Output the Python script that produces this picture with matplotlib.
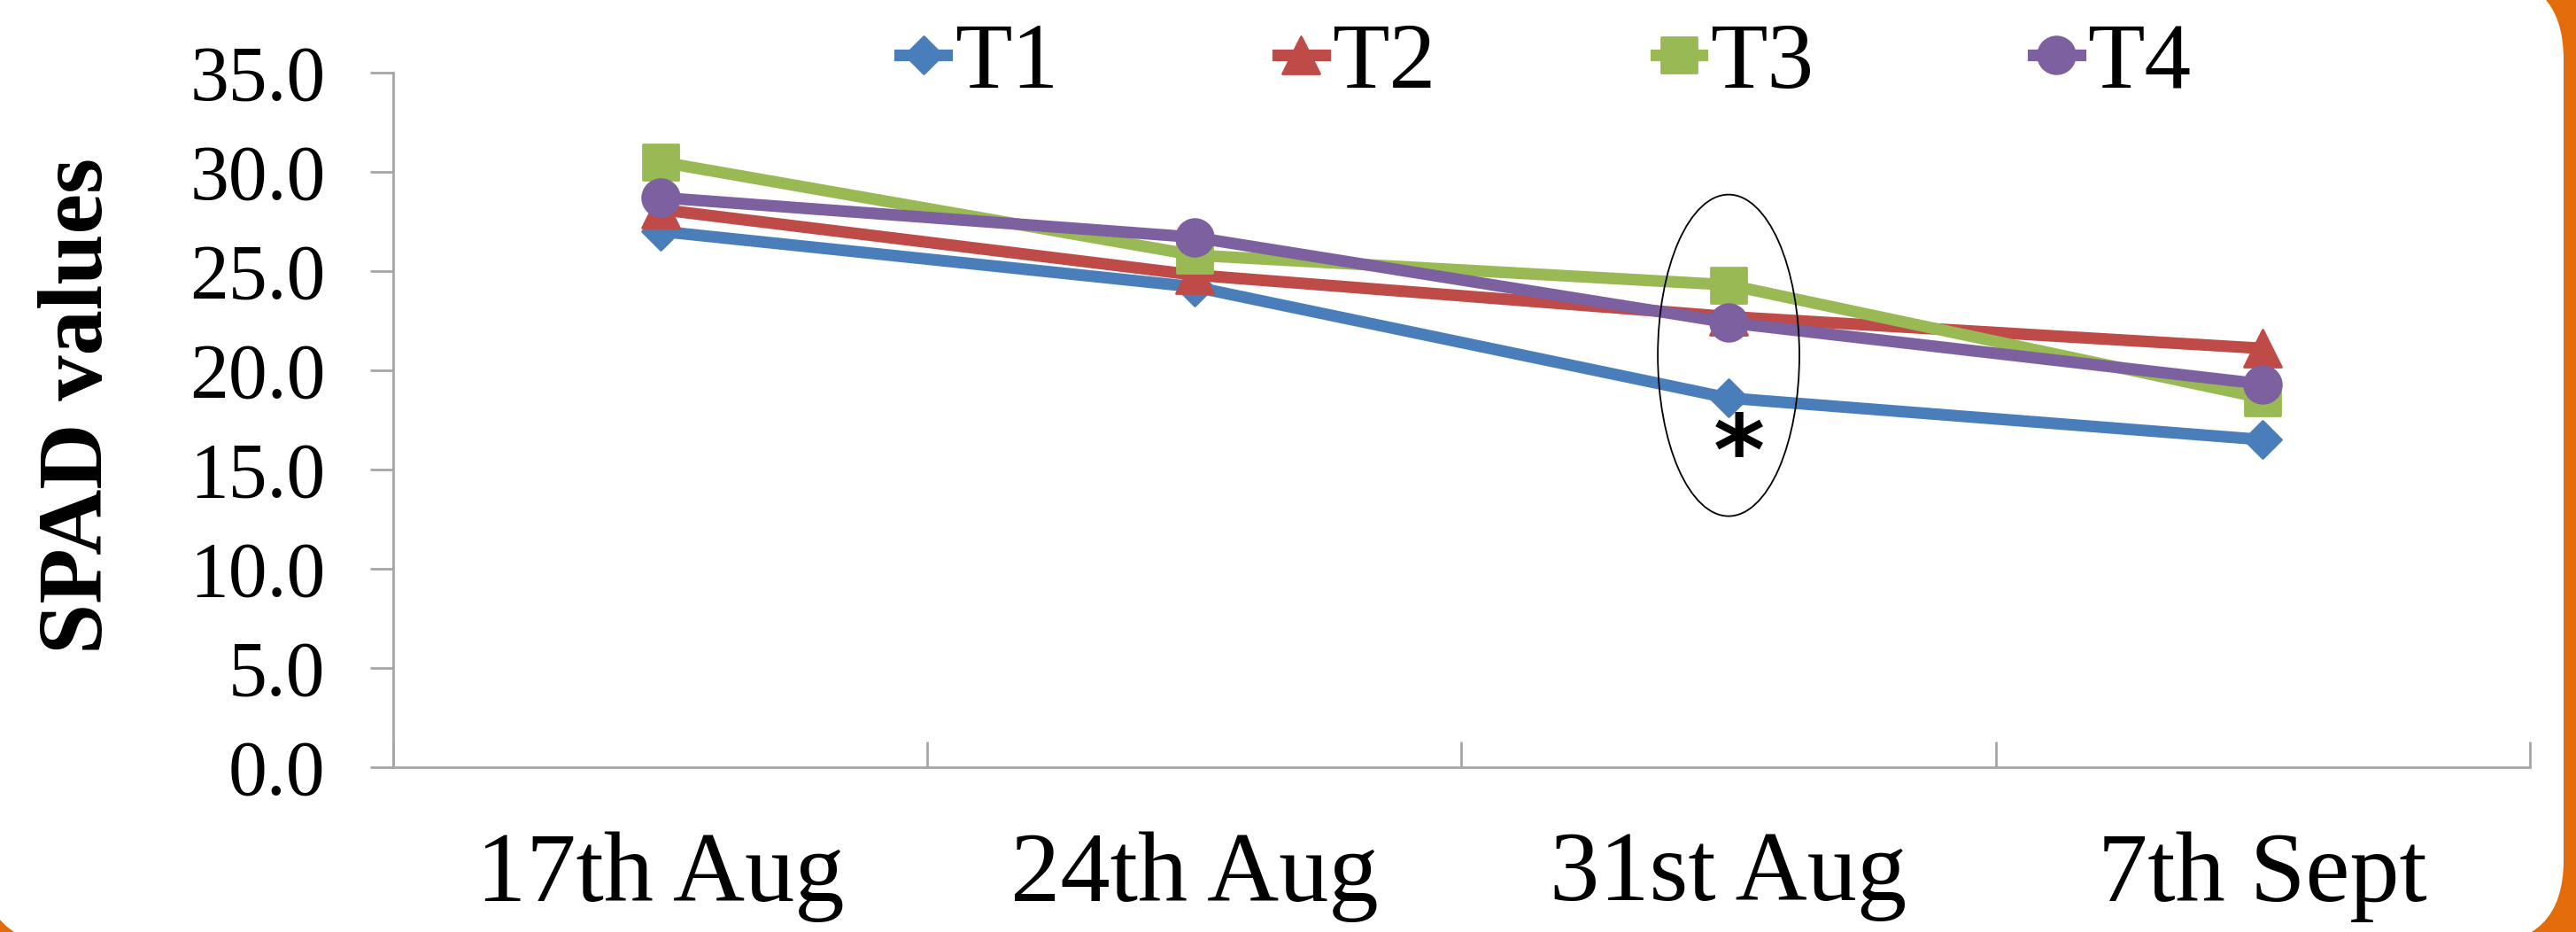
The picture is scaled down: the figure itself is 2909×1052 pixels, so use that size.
import matplotlib
matplotlib.use("Agg")
import matplotlib.pyplot as plt
from matplotlib.patches import Ellipse, FancyBboxPatch
from matplotlib.markers import MarkerStyle
from matplotlib.transforms import IdentityTransform

plt.rcParams['font.family'] = ['Liberation Serif', 'DejaVu Serif']

dates = ["17th Aug", "24th Aug", "31st Aug", "7th Sept"]
T1 = [27.0, 24.2, 18.6, 16.5]
T2 = [28.1, 24.8, 22.7, 21.1]
T3 = [30.5, 25.8, 24.3, 18.6]
T4 = [28.7, 26.7, 22.4, 19.3]
series = [("T1", T1), ("T2", T2), ("T3", T3), ("T4", T4)]
yticks = [0, 5, 10, 15, 20, 25, 30, 35]

colors = ['#4A7EBB', '#BE4B48', '#98B954', '#7D60A0']
markers = ['D', '^', 's', 'o']
msizes = [21, 30, 29, 30]

fig = plt.figure(figsize=(29.09, 10.52), dpi=100)
fig.patch.set_facecolor('#E36C0A')
# white rounded card on orange background (pixel coords)
card = FancyBboxPatch((-20, -14), 2915, 1094, boxstyle="round,pad=0,rounding_size=95",
                      transform=IdentityTransform(), facecolor='white', edgecolor='none', zorder=0)
fig.add_artist(card)

ax = fig.add_axes([0.1526, 0.1768, 0.8295, 0.7454])
ax.patch.set_alpha(0)
x = list(range(len(dates)))
for (name, vals), c, m, s in zip(series, colors, markers, msizes):
    ax.plot(x, vals, color=c, linewidth=9.5, label=name,
            marker=MarkerStyle(m, joinstyle='round'), markersize=s,
            markeredgewidth=2, markeredgecolor=c, markerfacecolor=c, solid_joinstyle='round')

ax.set_xlim(-0.5, 3.5)
ax.set_ylim(0, 35)
ax.set_yticks(yticks)
ax.set_yticklabels(["%.1f" % v for v in yticks])
ax.set_xticks(x)
ax.set_xticklabels(dates)
ax.set_xticks([-0.5, 0.5, 1.5, 2.5, 3.5], minor=True)

for sp in ['top', 'right']:
    ax.spines[sp].set_visible(False)
for sp in ['left', 'bottom']:
    ax.spines[sp].set_color('#A6A6A6')
    ax.spines[sp].set_linewidth(2)

ax.tick_params(axis='y', direction='out', length=19, width=2, color='#A6A6A6',
               labelsize=63, pad=36)
ax.tick_params(axis='x', which='major', length=0, labelsize=81, pad=52)
ax.tick_params(axis='x', which='minor', direction='in', length=21, width=2, color='#A6A6A6')

ax.set_ylabel("SPAD values", fontsize=74, fontweight='bold')
ax.yaxis.set_label_coords(-0.127, 0.52)

ax.add_patch(Ellipse((2.0, 20.75), 0.265, 16.2, fill=False, edgecolor='black', linewidth=1.3, zorder=5))
ax.text(2.02, 15.6, "*", fontsize=80, fontweight='bold', family='DejaVu Sans',
        ha='center', va='center', zorder=6)

fig.legend(loc='center', bbox_to_anchor=(0.6, 0.93), ncol=4, frameon=False,
           fontsize=76, handlelength=0.5, handletextpad=0.08, columnspacing=2.35,
           borderpad=0, markerscale=1.0)

fig.savefig("out.png", dpi=100, facecolor=fig.get_facecolor())
